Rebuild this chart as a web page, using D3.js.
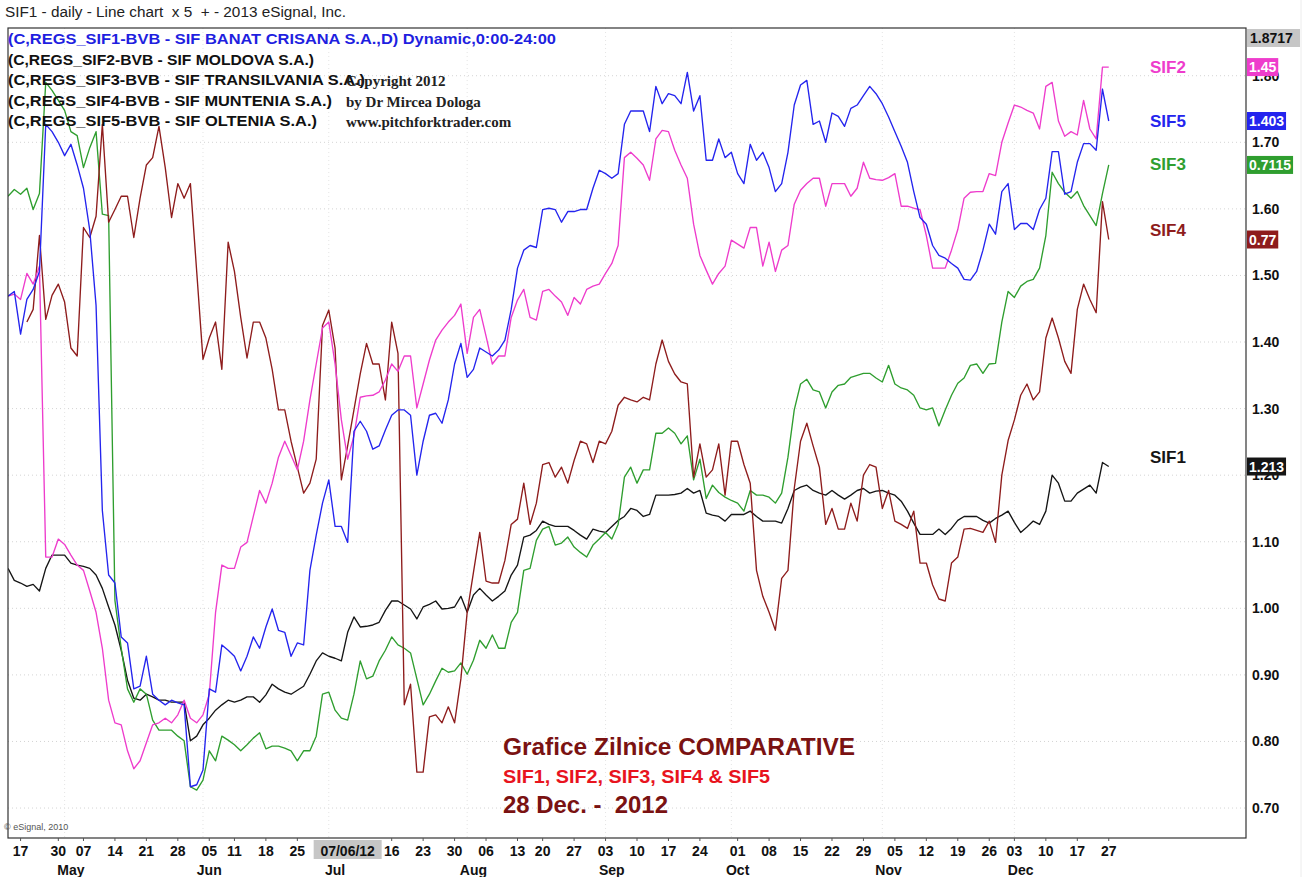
<!DOCTYPE html>
<html>
<head>
<meta charset="utf-8">
<script src="https://cdn.jsdelivr.net/npm/d3@7"></script>
<style>
  body { margin: 0; background: #fff; }
  svg { display: block; font-family: "Liberation Sans", Arial, sans-serif; }
</style>
</head>
<body>
<svg id="chart" width="1314" height="877"></svg>
<script>
// SIF1..SIF5 daily closes (normalised to the SIF1 scale), one value per trading day
const SIF1 = [
  1.060,1.042,1.038,1.033,1.036,1.026,1.060,1.080,1.080,1.080,
  1.068,1.065,1.063,1.060,1.050,1.030,1.002,0.975,0.937,0.892,
  0.865,0.862,0.871,0.867,0.862,0.862,0.859,0.859,0.859,0.801,
  0.808,0.825,0.835,0.847,0.855,0.862,0.859,0.862,0.867,0.867,
  0.859,0.870,0.886,0.879,0.874,0.871,0.877,0.883,0.901,0.921,
  0.933,0.928,0.925,0.921,0.964,0.987,0.972,0.973,0.975,0.979,
  0.997,1.011,1.011,1.005,0.999,0.984,1.002,1.006,1.011,0.999,
  1.000,1.002,1.018,0.994,1.020,1.030,1.020,1.011,1.018,1.026,
  1.050,1.065,1.107,1.110,1.117,1.131,1.126,1.123,1.123,1.123,
  1.117,1.110,1.104,1.119,1.116,1.114,1.123,1.132,1.138,1.150,
  1.147,1.138,1.141,1.170,1.170,1.170,1.171,1.173,1.180,1.173,
  1.177,1.143,1.140,1.138,1.131,1.141,1.141,1.141,1.146,1.138,
  1.131,1.131,1.131,1.128,1.150,1.177,1.182,1.185,1.177,1.173,
  1.170,1.177,1.170,1.164,1.170,1.177,1.180,1.173,1.176,1.177,
  1.173,1.170,1.161,1.146,1.128,1.111,1.111,1.111,1.119,1.111,
  1.120,1.132,1.138,1.138,1.138,1.132,1.128,1.135,1.140,1.146,
  1.129,1.114,1.122,1.131,1.126,1.146,1.200,1.188,1.161,1.161,
  1.173,1.179,1.185,1.173,1.219,1.213
];
const SIF2 = [
  1.469,1.472,1.464,1.503,1.487,1.514,1.077,1.077,1.104,1.096,
  1.080,1.065,1.057,1.026,0.994,0.940,0.862,0.828,0.825,0.786,
  0.759,0.771,0.798,0.825,0.828,0.835,0.828,0.840,0.862,0.835,
  0.828,0.840,0.871,0.994,1.065,1.060,1.060,1.092,1.099,1.138,
  1.177,1.158,1.188,1.227,1.251,1.230,1.208,1.251,1.313,1.367,
  1.421,1.430,1.367,1.283,1.224,1.259,1.317,1.319,1.320,1.325,
  1.343,1.367,1.356,1.379,1.379,1.301,1.337,1.373,1.403,1.418,
  1.430,1.440,1.457,1.383,1.437,1.449,1.409,1.367,1.379,1.379,
  1.437,1.463,1.479,1.437,1.433,1.476,1.479,1.469,1.460,1.440,
  1.467,1.457,1.479,1.484,1.487,1.503,1.518,1.545,1.677,1.685,
  1.676,1.666,1.643,1.705,1.718,1.716,1.688,1.666,1.646,1.577,
  1.530,1.508,1.487,1.503,1.514,1.553,1.547,1.541,1.572,1.572,
  1.514,1.550,1.506,1.538,1.545,1.607,1.628,1.638,1.646,1.646,
  1.604,1.638,1.638,1.638,1.619,1.631,1.670,1.646,1.644,1.643,
  1.647,1.653,1.604,1.604,1.601,1.599,1.560,1.511,1.511,1.511,
  1.538,1.569,1.616,1.625,1.626,1.626,1.653,1.650,1.700,1.729,
  1.756,1.753,1.748,1.744,1.720,1.784,1.790,1.732,1.709,1.716,
  1.711,1.763,1.720,1.705,1.813,1.813
];
const SIF3 = [
  1.619,1.629,1.622,1.631,1.599,1.623,1.790,1.778,1.763,1.748,
  1.716,1.710,1.662,1.692,1.716,1.592,1.590,1.012,0.940,0.879,
  0.859,0.879,0.871,0.832,0.817,0.817,0.817,0.808,0.801,0.732,
  0.727,0.742,0.786,0.771,0.808,0.802,0.795,0.786,0.795,0.805,
  0.813,0.789,0.793,0.793,0.790,0.786,0.771,0.786,0.786,0.808,
  0.871,0.874,0.847,0.835,0.832,0.871,0.921,0.894,0.898,0.921,
  0.937,0.957,0.945,0.940,0.933,0.894,0.855,0.871,0.891,0.910,
  0.904,0.906,0.918,0.901,0.922,0.952,0.940,0.960,0.940,0.940,
  0.979,0.994,1.057,1.060,1.102,1.119,1.123,1.095,1.098,1.107,
  1.092,1.084,1.077,1.095,1.104,1.114,1.104,1.126,1.197,1.212,
  1.188,1.208,1.208,1.263,1.263,1.271,1.263,1.247,1.259,1.193,
  1.224,1.165,1.185,1.174,1.167,1.162,1.158,1.146,1.177,1.170,
  1.170,1.167,1.158,1.173,1.227,1.298,1.337,1.344,1.328,1.325,
  1.301,1.325,1.335,1.337,1.347,1.350,1.353,1.353,1.346,1.340,
  1.365,1.337,1.331,1.328,1.320,1.301,1.298,1.301,1.274,1.298,
  1.320,1.338,1.346,1.365,1.367,1.353,1.367,1.368,1.430,1.476,
  1.467,1.484,1.491,1.494,1.511,1.560,1.655,1.638,1.625,1.616,
  1.626,1.605,1.590,1.575,1.623,1.666
];
const SIF4 = [
  null,null,null,1.430,1.449,1.560,1.434,1.470,1.487,1.460,
  1.391,1.379,1.572,1.557,1.589,1.727,1.580,1.599,1.619,1.619,
  1.557,1.616,1.666,1.677,1.724,1.662,1.587,1.638,1.616,1.638,
  1.506,1.374,1.406,1.430,1.359,1.550,1.506,1.437,1.376,1.430,
  1.430,1.406,1.359,1.298,1.298,1.251,1.212,1.173,1.188,1.224,
  1.425,1.448,1.391,1.193,1.244,1.298,1.352,1.398,1.367,1.367,
  1.313,1.430,1.383,0.855,0.886,0.754,0.754,0.837,0.840,0.828,
  0.852,0.828,0.894,0.994,1.054,1.114,1.041,1.038,1.038,1.072,
  1.126,1.134,1.188,1.126,1.158,1.216,1.219,1.197,1.212,1.188,
  1.222,1.251,1.247,1.219,1.251,1.247,1.266,1.305,1.317,1.313,
  1.310,1.317,1.313,1.367,1.403,1.371,1.352,1.340,1.337,1.197,
  1.247,1.197,1.208,1.247,1.170,1.251,1.251,1.216,1.188,1.057,
  1.018,0.994,0.967,1.045,1.057,1.180,1.251,1.278,1.244,1.212,
  1.126,1.150,1.119,1.119,1.158,1.131,1.200,1.216,1.212,1.150,
  1.177,1.131,1.126,1.120,1.146,1.068,1.068,1.035,1.014,1.011,
  1.068,1.077,1.119,1.120,1.117,1.114,1.131,1.099,1.200,1.252,
  1.283,1.320,1.337,1.313,1.325,1.406,1.436,1.406,1.371,1.353,
  1.449,1.487,1.464,1.444,1.611,1.554
];
const SIF5 = [
  1.469,1.476,1.412,1.464,1.479,1.506,1.727,1.716,1.700,1.680,
  1.697,1.666,1.631,1.568,1.455,1.147,1.050,1.038,0.957,0.948,
  0.879,0.883,0.928,0.871,0.862,0.855,0.862,0.858,0.855,0.732,
  0.735,0.757,0.879,0.874,0.945,0.937,0.928,0.906,0.928,0.957,
  0.940,0.972,0.999,0.967,0.964,0.928,0.948,0.945,1.057,1.110,
  1.158,1.193,1.123,1.123,1.099,1.266,1.281,1.266,1.239,1.244,
  1.268,1.290,1.298,1.298,1.290,1.200,1.251,1.290,1.293,1.278,
  1.313,1.367,1.398,1.347,1.359,1.391,1.385,1.379,1.388,1.403,
  1.449,1.511,1.538,1.545,1.542,1.599,1.601,1.599,1.580,1.596,
  1.596,1.599,1.599,1.631,1.658,1.653,1.646,1.653,1.727,1.747,
  1.747,1.747,1.716,1.784,1.758,1.773,1.770,1.758,1.805,1.747,
  1.770,1.673,1.673,1.705,1.677,1.685,1.653,1.638,1.697,1.673,
  1.685,1.662,1.626,1.638,1.685,1.756,1.786,1.793,1.727,1.732,
  1.700,1.744,1.739,1.724,1.751,1.756,1.770,1.784,1.773,1.758,
  1.738,1.716,1.694,1.670,1.626,1.587,1.577,1.545,1.530,1.526,
  1.518,1.511,1.494,1.493,1.506,1.538,1.577,1.562,1.626,1.638,
  1.569,1.578,1.578,1.569,1.599,1.616,1.686,1.686,1.622,1.626,
  1.670,1.698,1.698,1.688,1.780,1.732
];

const SERIES_NAMES = ["SIF1", "SIF2", "SIF3", "SIF4", "SIF5"];
const LAST_PRICES  = ["1.213", "1.45", "0.7115", "0.77", "1.403"];
const COLORS = { SIF1: "#151515", SIF2: "#ee3ccc", SIF3: "#2f9e2f", SIF4: "#8e1c1c", SIF5: "#2424ee" };
const NAME_DY = { SIF1: -10, SIF2: 0, SIF3: -1, SIF4: -10, SIF5: 0 };

const Y_TICKS = [0.7, 0.8, 0.9, 1.0, 1.1, 1.2, 1.3, 1.4, 1.5, 1.6, 1.7, 1.8];
const Y_TOP = 1.8717;

// trading-day index of each date label under the chart
const DAY_TICKS  = [2, 8, 12, 17, 22, 27, 32, 36, 41, 46, 61, 66, 71, 76, 81, 85, 90, 95, 100, 105, 110, 116, 121, 126, 131, 136, 141, 146, 151, 156, 160, 165, 170, 175];
const DAY_LABELS = ["17","30","07","14","21","28","05","11","18","25","16","23","30","06","13","20","27","03","10","17","24","01","08","15","22","29","05","12","19","26","03","10","17","27"];
const CURSOR_DAY = 54, CURSOR_LABEL = "07/06/12";
const MONTH_DAYS   = [10, 32, 52, 74, 96, 116, 140, 161];
const MONTH_LABELS = ["May","Jun","Jul","Aug","Sep","Oct","Nov","Dec"];

const LEGEND = [
  "(C,REGS_SIF1-BVB - SIF BANAT CRISANA S.A.,D) Dynamic,0:00-24:00",
  "(C,REGS_SIF2-BVB - SIF MOLDOVA S.A.)",
  "(C,REGS_SIF3-BVB - SIF TRANSILVANIA S.A.)",
  "(C,REGS_SIF4-BVB - SIF MUNTENIA S.A.)",
  "(C,REGS_SIF5-BVB - SIF OLTENIA S.A.)",
];
const COPYRIGHT = ["Copyright 2012", "by Dr Mircea Dologa", "www.pitchforktrader.com"];

const data = { SIF1, SIF2, SIF3, SIF4, SIF5 };

const svg = d3.select("#chart");
const L = 8, T = 28, R = 1246, B = 838;

const x = d3.scaleLinear().domain([0, 175]).range([8, 1108.75]);
const y = d3.scaleLinear().domain([0.655, Y_TOP]).range([B, T]);

svg.append("rect").attr("width", 1314).attr("height", 877).attr("fill", "#fff");
svg.append("line").attr("x1", 1301).attr("x2", 1301).attr("y1", 0).attr("y2", 877)
  .attr("stroke", "#ececec");

// faint dotted grid
const grid = svg.append("g");
grid.selectAll("line.h").data(Y_TICKS).enter().append("line")
  .attr("x1", L).attr("x2", R)
  .attr("y1", d => y(d)).attr("y2", d => y(d))
  .attr("stroke", "#d4d4d4").attr("stroke-dasharray", "1 3");
grid.selectAll("line.v").data(MONTH_DAYS).enter().append("line")
  .attr("x1", d => x(d - 1)).attr("x2", d => x(d - 1))
  .attr("y1", T).attr("y2", B)
  .attr("stroke", "#e4e4e4").attr("stroke-dasharray", "1 3");

svg.append("defs").append("clipPath").attr("id", "plotclip")
  .append("rect").attr("x", L).attr("y", T).attr("width", R - L).attr("height", B - T);

// series
const line = d3.line()
  .defined(d => d != null)
  .x((d, i) => x(i))
  .y(d => y(d));

const lines = svg.append("g").attr("clip-path", "url(#plotclip)");
["SIF1", "SIF3", "SIF4", "SIF2", "SIF5"].forEach(name => {
  lines.append("path")
    .datum(data[name])
    .attr("d", line)
    .attr("fill", "none")
    .attr("stroke", COLORS[name])
    .attr("stroke-width", 1.35)
    .attr("stroke-linejoin", "round");
});

// frame
svg.append("rect").attr("x", L).attr("y", T).attr("width", R - L).attr("height", B - T)
  .attr("fill", "none").attr("stroke", "#333").attr("stroke-width", 1.2);

// header + legend
svg.append("text").attr("x", 5).attr("y", 17)
  .attr("font-size", 14).attr("fill", "#222")
  .attr("textLength", 341).attr("lengthAdjust", "spacingAndGlyphs")
  .attr("xml:space", "preserve")
  .text("SIF1 - daily - Line chart  x 5  + - 2013 eSignal, Inc.");

const legendW = [548, 306, 357, 324, 309];
svg.append("g").selectAll("text").data(LEGEND).enter().append("text")
  .attr("x", 8)
  .attr("y", (d, i) => 44 + i * 20.5)
  .attr("font-size", 15).attr("font-weight", "bold")
  .attr("fill", (d, i) => i === 0 ? "#1f1fe0" : "#111")
  .attr("textLength", (d, i) => legendW[i]).attr("lengthAdjust", "spacingAndGlyphs")
  .text(d => d);

svg.append("g").selectAll("text").data(COPYRIGHT).enter().append("text")
  .attr("x", 346)
  .attr("y", (d, i) => 86 + i * 20.5)
  .attr("font-family", "'Liberation Serif', 'Times New Roman', serif")
  .attr("font-size", 15).attr("font-weight", "bold").attr("fill", "#222")
  .text(d => d);

// right price axis
const axisG = svg.append("g");
axisG.selectAll("text").data(Y_TICKS).enter().append("text")
  .attr("x", 1252).attr("y", d => y(d) + 5)
  .attr("font-size", 14).attr("font-weight", "bold").attr("fill", "#111")
  .text(d => d.toFixed(2));

axisG.append("rect").attr("x", 1247).attr("y", 29).attr("width", 53).attr("height", 18)
  .attr("fill", "#c6c6c6");
axisG.append("text").attr("x", 1250).attr("y", 43)
  .attr("font-size", 14).attr("font-weight", "bold").attr("fill", "#111")
  .text(Y_TOP.toFixed(4));

// last-price boxes and series names
SERIES_NAMES.forEach((name, k) => {
  const vals = data[name];
  const yy = y(vals[vals.length - 1]);
  const g = axisG.append("g");
  const t = g.append("text").attr("x", 1249).attr("y", yy + 5)
    .attr("font-size", 14).attr("font-weight", "bold").attr("fill", "#fff")
    .text(LAST_PRICES[k]);
  const w = t.node().getComputedTextLength();
  g.insert("rect", "text").attr("x", 1247).attr("y", yy - 9)
    .attr("width", w + 4).attr("height", 18).attr("fill", COLORS[name]);
  svg.append("text").attr("x", 1150).attr("y", yy + 6 + NAME_DY[name])
    .attr("font-size", 17).attr("font-weight", "bold").attr("fill", COLORS[name])
    .text(name);
});

// bottom date axis
const xAxis = svg.append("g");
xAxis.selectAll("line").data(DAY_TICKS).enter().append("line")
  .attr("x1", d => x(d)).attr("x2", d => x(d))
  .attr("y1", B).attr("y2", B + 3).attr("stroke", "#555");
xAxis.selectAll("text.day").data(DAY_TICKS).enter().append("text")
  .attr("x", d => x(d)).attr("y", 856)
  .attr("text-anchor", "middle")
  .attr("font-size", 14).attr("font-weight", "bold").attr("fill", "#111")
  .text((d, i) => DAY_LABELS[i]);
xAxis.append("rect").attr("x", x(CURSOR_DAY) - 34).attr("y", 840)
  .attr("width", 68).attr("height", 19).attr("fill", "#c6c6c6");
xAxis.append("text").attr("x", x(CURSOR_DAY)).attr("y", 856)
  .attr("text-anchor", "middle")
  .attr("font-size", 14).attr("font-weight", "bold").attr("fill", "#111")
  .text(CURSOR_LABEL);
xAxis.selectAll("text.month").data(MONTH_DAYS).enter().append("text")
  .attr("x", d => x(d)).attr("y", 875)
  .attr("text-anchor", "middle")
  .attr("font-size", 14).attr("font-weight", "bold").attr("fill", "#111")
  .text((d, i) => MONTH_LABELS[i]);

svg.append("text").attr("x", 4).attr("y", 830)
  .attr("font-size", 9).attr("fill", "#555")
  .text("\u00a9 eSignal, 2010");

// annotation block
const note = svg.append("g").attr("font-weight", "bold");
note.append("text").attr("x", 503).attr("y", 755)
  .attr("font-size", 24).attr("fill", "#7a1212")
  .attr("textLength", 352).attr("lengthAdjust", "spacingAndGlyphs")
  .text("Grafice Zilnice COMPARATIVE");
note.append("text").attr("x", 503).attr("y", 783)
  .attr("font-size", 19).attr("fill", "#e8141e")
  .attr("textLength", 267).attr("lengthAdjust", "spacingAndGlyphs")
  .text("SIF1, SIF2, SIF3, SIF4 & SIF5");
note.append("text").attr("x", 503).attr("y", 813)
  .attr("font-size", 24).attr("fill", "#7a1212")
  .attr("textLength", 165).attr("lengthAdjust", "spacingAndGlyphs")
  .attr("xml:space", "preserve")
  .text("28 Dec. -  2012");
</script>
</body>
</html>
